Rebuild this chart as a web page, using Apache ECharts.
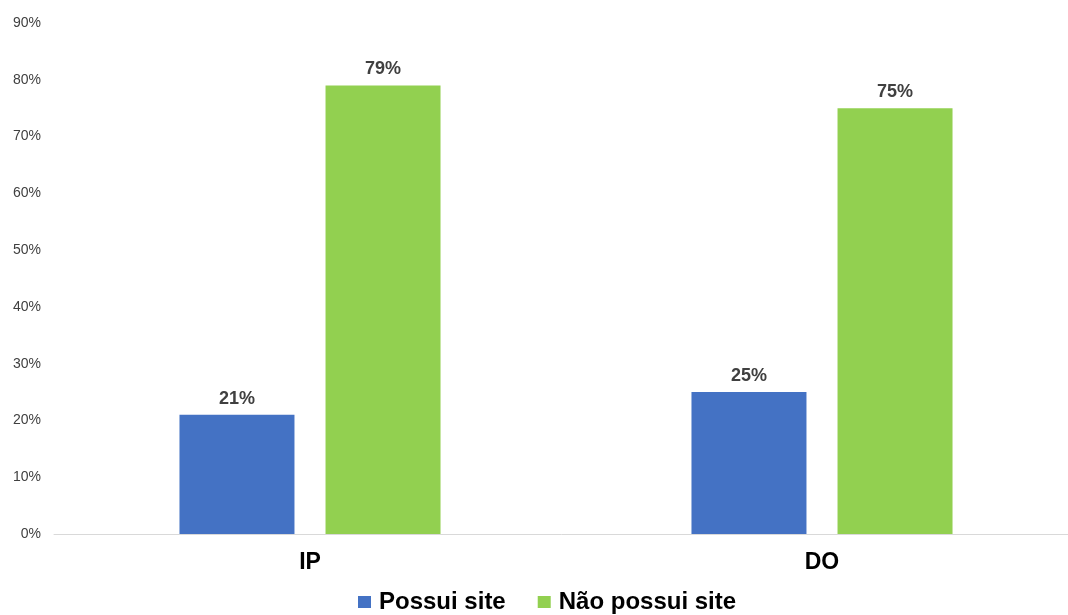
<!DOCTYPE html>
<html>
<head>
<meta charset="utf-8">
<script src="https://cdn.jsdelivr.net/npm/echarts@6/dist/echarts.min.js"></script>
<style>
  html, body { margin: 0; padding: 0; background: #fff; }
  #chart { width: 1068px; height: 615px; }
</style>
</head>
<body>
<div id="chart"></div>
<script>
var categories = ['IP', 'DO'];
var possuiSite = [21, 25];
var naoPossuiSite = [79, 75];

var myChart = echarts.init(document.getElementById('chart'));

var barLabel = {
    show: true,
    position: 'top',
    distance: 7,
    formatter: '{c}%',
    fontFamily: 'Liberation Sans, Arial, sans-serif',
    fontWeight: 'bold',
    fontSize: 18,
    color: '#404040'
};

myChart.setOption({
    animation: false,
    grid: {
        left: 54,
        width: 1024,
        top: 23,
        bottom: 81,
        outerBoundsMode: 'none'
    },
    legend: {
        top: 585,
        left: 353,
        itemWidth: 13,
        itemHeight: 12,
        itemGap: 32,
        icon: 'rect',
        textStyle: {
            fontFamily: 'Liberation Sans, Arial, sans-serif',
            fontWeight: 'bold',
            fontSize: 24,
            color: '#000',
            padding: [0, 0, 0, 3]
        },
        data: ['Possui site', 'Não possui site']
    },
    xAxis: {
        type: 'category',
        data: categories,
        axisLine: { lineStyle: { color: '#d9d9d9', width: 1 } },
        axisTick: { show: false },
        axisLabel: {
            margin: 17,
            fontFamily: 'Liberation Sans, Arial, sans-serif',
            fontWeight: 'bold',
            fontSize: 23,
            color: '#000'
        }
    },
    yAxis: {
        type: 'value',
        min: 0,
        max: 90,
        interval: 10,
        splitLine: { show: false },
        axisLine: { show: false },
        axisTick: { show: false },
        axisLabel: {
            formatter: '{value}%',
            margin: 13,
            fontFamily: 'Liberation Sans, Arial, sans-serif',
            fontSize: 14,
            color: '#404040'
        }
    },
    series: [
        {
            name: 'Possui site',
            type: 'bar',
            data: possuiSite,
            barWidth: 115,
            barGap: '27%',
            itemStyle: { color: '#4472C4' },
            label: barLabel
        },
        {
            name: 'Não possui site',
            type: 'bar',
            data: naoPossuiSite,
            barWidth: 115,
            barGap: '27%',
            itemStyle: { color: '#92D050' },
            label: barLabel
        }
    ]
});
</script>
</body>
</html>
